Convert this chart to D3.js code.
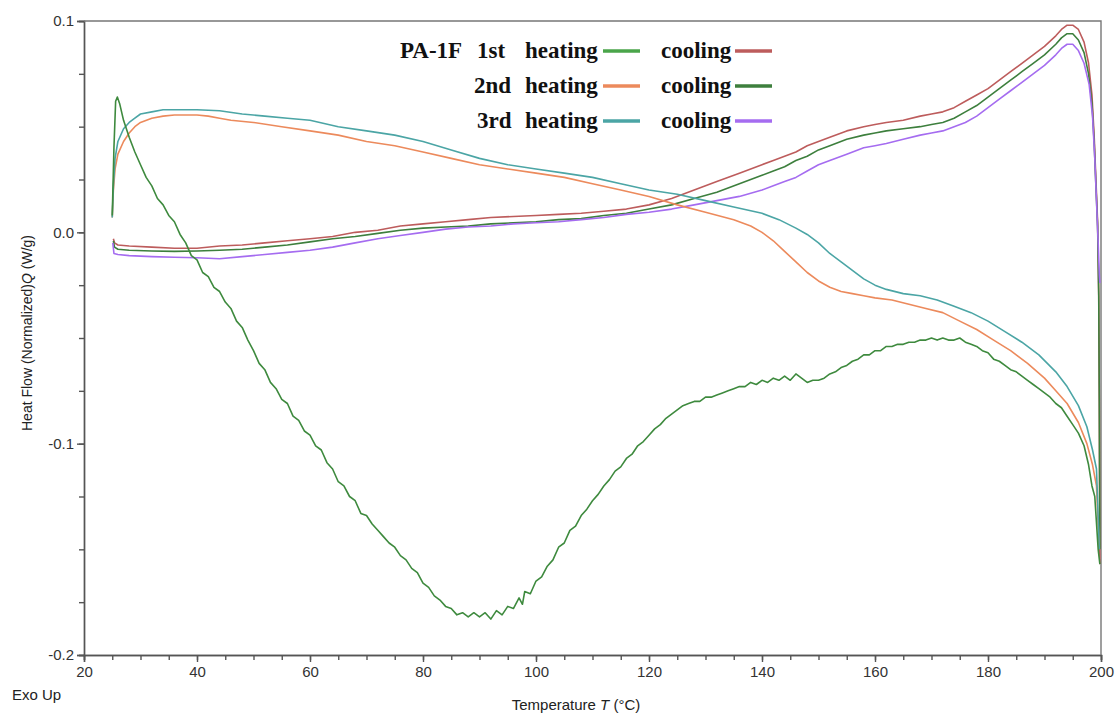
<!DOCTYPE html>
<html>
<head>
<meta charset="utf-8">
<script src="https://cdn.jsdelivr.net/npm/d3@7"></script>
<style>
  html, body { margin: 0; padding: 0; background: #fff; }
  svg { display: block; }
</style>
</head>
<body>
<div id="chart"></div>
<script>
// DSC curves of PA-1F, temperature (°C) vs heat flow (W/g)
var heating1 = [[25.0,0.008],[25.3,0.040],[25.6,0.062],[25.9,0.064],[26.3,0.061],[27,0.053],[28,0.045],[29,0.038],[30,0.032],[31,0.026],[32,0.022],[33,0.016],[34,0.013],[35,0.008],[36,0.005],[37,-0.001],[38,-0.005],[39,-0.011],[40,-0.013],[41,-0.019],[42,-0.021],[43,-0.026],[44,-0.028],[45,-0.033],[46,-0.036],[47,-0.042],[48,-0.045],[49,-0.051],[50,-0.056],[51,-0.062],[52,-0.065],[53,-0.071],[54,-0.074],[55,-0.079],[56,-0.081],[57,-0.087],[58,-0.089],[59,-0.094],[60,-0.096],[61,-0.101],[62,-0.103],[63,-0.109],[64,-0.112],[65,-0.118],[66,-0.120],[67,-0.125],[68,-0.127],[69,-0.133],[70,-0.134],[71,-0.138],[72,-0.141],[73,-0.144],[74,-0.147],[75,-0.149],[76,-0.153],[77,-0.155],[78,-0.159],[79,-0.161],[80,-0.166],[81,-0.168],[82,-0.172],[83,-0.174],[84,-0.177],[85,-0.178],[86,-0.181],[87,-0.180],[88,-0.182],[89,-0.180],[90,-0.182],[91,-0.180],[92,-0.183],[93,-0.179],[94,-0.181],[95,-0.177],[96,-0.178],[97,-0.173],[97.6,-0.176],[98,-0.170],[99,-0.171],[100,-0.165],[101,-0.163],[102,-0.158],[103,-0.155],[104,-0.149],[105,-0.147],[106,-0.141],[107,-0.139],[108,-0.134],[109,-0.131],[110,-0.127],[111,-0.124],[112,-0.120],[113,-0.117],[114,-0.113],[115,-0.111],[116,-0.107],[117,-0.105],[118,-0.101],[119,-0.099],[120,-0.096],[121,-0.093],[122,-0.091],[123,-0.088],[124,-0.086],[125,-0.084],[126,-0.082],[127,-0.081],[128,-0.080],[129,-0.080],[130,-0.078],[131,-0.078],[132,-0.077],[133,-0.076],[134,-0.075],[135,-0.074],[136,-0.073],[137,-0.073],[138,-0.071],[139,-0.072],[140,-0.070],[141,-0.071],[142,-0.069],[143,-0.070],[144,-0.068],[145,-0.070],[146,-0.067],[147,-0.069],[148,-0.071],[149,-0.070],[150,-0.070],[151,-0.069],[152,-0.067],[153,-0.066],[154,-0.064],[155,-0.063],[156,-0.061],[157,-0.060],[158,-0.058],[159,-0.058],[160,-0.056],[161,-0.056],[162,-0.054],[163,-0.054],[164,-0.053],[165,-0.053],[166,-0.052],[167,-0.052],[168,-0.051],[169,-0.051],[170,-0.050],[171,-0.051],[172,-0.050],[173,-0.051],[174,-0.051],[175,-0.050],[176,-0.052],[177,-0.053],[178,-0.054],[179,-0.056],[180,-0.057],[181,-0.060],[182,-0.061],[183,-0.063],[184,-0.065],[185,-0.066],[186,-0.068],[187,-0.070],[188,-0.072],[189,-0.074],[190,-0.076],[191,-0.078],[192,-0.081],[193,-0.083],[194,-0.087],[195,-0.091],[196,-0.095],[197,-0.101],[197.8,-0.110],[198.4,-0.120],[198.9,-0.125],[199.5,-0.150],[199.8,-0.157]];

var cooling1 = [[199.8,-0.157],[199.7,-0.08],[199.6,-0.03],[199.4,0.005],[199.1,0.025],[198.8,0.045],[198.4,0.065],[197.8,0.080],[197,0.090],[196,0.096],[195,0.098],[194,0.098],[193,0.096],[192,0.093],[190,0.088],[188,0.084],[186,0.080],[184,0.076],[182,0.072],[180,0.068],[178,0.065],[176,0.062],[174,0.059],[172,0.057],[170,0.056],[168,0.055],[165,0.053],[162,0.052],[160,0.051],[158,0.050],[155,0.048],[152,0.045],[150,0.043],[148,0.041],[146,0.038],[144,0.036],[142,0.034],[140,0.032],[136,0.028],[132,0.024],[128,0.020],[124,0.016],[120,0.013],[116,0.011],[112,0.010],[108,0.009],[104,0.0085],[100,0.008],[96,0.0075],[92,0.007],[88,0.006],[84,0.005],[80,0.004],[76,0.003],[72,0.001],[68,0.0],[64,-0.002],[60,-0.003],[56,-0.004],[52,-0.005],[48,-0.006],[44,-0.0065],[40,-0.0075],[36,-0.0075],[32,-0.007],[28,-0.0065],[26,-0.006],[25.4,-0.005],[25.2,-0.003]];

var heating2 = [[25.0,0.007],[25.2,0.020],[25.5,0.030],[26,0.037],[27,0.043],[28,0.047],[29,0.050],[30,0.052],[32,0.054],[34,0.055],[36,0.0555],[38,0.0555],[40,0.0555],[42,0.055],[44,0.054],[46,0.053],[50,0.052],[55,0.050],[60,0.048],[65,0.046],[70,0.043],[75,0.041],[80,0.038],[85,0.035],[90,0.032],[95,0.030],[100,0.028],[105,0.026],[110,0.023],[115,0.020],[120,0.017],[125,0.013],[130,0.0095],[135,0.006],[138,0.003],[140,0.0],[142,-0.004],[144,-0.009],[146,-0.014],[148,-0.019],[150,-0.023],[152,-0.026],[154,-0.028],[156,-0.029],[158,-0.030],[160,-0.031],[163,-0.032],[166,-0.034],[169,-0.036],[172,-0.038],[175,-0.042],[178,-0.046],[181,-0.051],[184,-0.056],[187,-0.062],[190,-0.069],[192,-0.075],[194,-0.081],[196,-0.090],[197.5,-0.100],[198.5,-0.110],[199.2,-0.120],[199.7,-0.150]];

var cooling2 = [[199.8,-0.150],[199.7,-0.08],[199.6,-0.03],[199.4,0.003],[199.1,0.022],[198.8,0.042],[198.4,0.061],[197.8,0.075],[197,0.085],[196,0.091],[195,0.094],[194,0.094],[193,0.092],[192,0.089],[190,0.084],[188,0.080],[186,0.076],[184,0.072],[182,0.068],[180,0.064],[178,0.060],[176,0.057],[174,0.054],[172,0.052],[170,0.051],[168,0.050],[165,0.049],[162,0.048],[160,0.047],[158,0.046],[155,0.044],[152,0.041],[150,0.039],[148,0.036],[146,0.034],[144,0.031],[142,0.029],[140,0.027],[136,0.023],[132,0.019],[128,0.016],[124,0.013],[120,0.011],[116,0.009],[112,0.008],[108,0.0065],[104,0.006],[100,0.005],[96,0.0045],[92,0.004],[88,0.003],[84,0.0025],[80,0.002],[76,0.001],[72,-0.0005],[68,-0.002],[64,-0.003],[60,-0.0045],[56,-0.006],[52,-0.007],[48,-0.008],[44,-0.0085],[40,-0.0088],[36,-0.009],[32,-0.0088],[28,-0.0085],[26,-0.008],[25.4,-0.007],[25.2,-0.004]];

var heating3 = [[25.0,0.007],[25.2,0.022],[25.5,0.035],[26,0.043],[27,0.049],[28,0.052],[29,0.054],[30,0.056],[32,0.057],[34,0.058],[36,0.058],[40,0.058],[44,0.0575],[48,0.056],[52,0.055],[56,0.054],[60,0.053],[65,0.050],[70,0.048],[75,0.046],[80,0.043],[85,0.039],[90,0.035],[95,0.032],[100,0.030],[105,0.028],[110,0.026],[115,0.023],[120,0.020],[125,0.018],[130,0.015],[135,0.012],[140,0.009],[143,0.006],[146,0.002],[148,-0.001],[150,-0.005],[152,-0.010],[154,-0.014],[156,-0.018],[158,-0.022],[160,-0.025],[162,-0.027],[165,-0.029],[168,-0.030],[171,-0.032],[174,-0.035],[177,-0.038],[180,-0.042],[183,-0.047],[186,-0.052],[189,-0.058],[192,-0.066],[194,-0.073],[196,-0.082],[197.5,-0.092],[198.5,-0.103],[199.2,-0.112],[199.7,-0.150]];

var cooling3 = [[199.8,-0.024],[199.7,-0.020],[199.5,-0.005],[199.2,0.015],[198.9,0.035],[198.5,0.055],[197.9,0.070],[197,0.080],[196,0.086],[195,0.089],[194,0.089],[193,0.087],[192,0.084],[190,0.079],[188,0.075],[186,0.071],[184,0.067],[182,0.063],[180,0.059],[178,0.055],[176,0.052],[174,0.050],[172,0.048],[170,0.047],[168,0.046],[165,0.044],[162,0.042],[160,0.041],[158,0.040],[155,0.037],[152,0.034],[150,0.032],[148,0.029],[146,0.026],[144,0.024],[142,0.022],[140,0.020],[136,0.017],[132,0.015],[128,0.013],[124,0.011],[120,0.0095],[116,0.0085],[112,0.007],[108,0.006],[104,0.005],[100,0.0045],[96,0.004],[92,0.003],[88,0.0025],[84,0.0015],[80,0.0],[76,-0.0015],[72,-0.003],[68,-0.005],[64,-0.007],[60,-0.0085],[56,-0.0095],[52,-0.0105],[48,-0.0115],[44,-0.0125],[40,-0.012],[36,-0.0118],[32,-0.0115],[28,-0.011],[26,-0.0105],[25.3,-0.010],[25.1,-0.005]];

var runLabels = ["1st", "2nd", "3rd"];
var heatColors = ["#4aa54a", "#ec8a5c", "#4ba5a5"];
var coolColors = ["#bd5c5c", "#3d7f3d", "#a56cf0"];
var xTicks = [20, 40, 60, 80, 100, 120, 140, 160, 180, 200];
var yTicks = [-0.2, -0.1, 0.0, 0.1];

var chart = {
    width: 1118,
    height: 713,
    margin: {top: 21, right: 17, bottom: 58, left: 84},
    init: function(){
        var m = this.margin;
        this.svg = d3.select('#chart').append('svg')
            .attr('width', this.width)
            .attr('height', this.height);

        this.x = d3.scaleLinear().domain([20, 200]).range([m.left, this.width - m.right]);
        this.y = d3.scaleLinear().domain([-0.2, 0.1]).range([this.height - m.bottom, m.top]);

        this.drawAxes();
        this.drawCurves();
        this.drawLegend();
    },
    drawAxes: function(){
        var x = this.x, y = this.y, svg = this.svg;
        var x0 = x.range()[0], x1 = x.range()[1];
        var y0 = y.range()[0], y1 = y.range()[1];

        // minor ticks first
        svg.append('g').attr('class', 'minor')
            .attr('transform', 'translate(0,' + y0 + ')')
            .call(d3.axisBottom(x).tickValues(d3.range(20, 201, 5)).tickSize(5).tickFormat(''));
        svg.append('g').attr('class', 'minor')
            .attr('transform', 'translate(' + x0 + ',0)')
            .call(d3.axisLeft(y).tickValues(d3.range(-0.2, 0.1001, 0.025)).tickSize(5).tickFormat(''));

        svg.append('g').attr('class', 'xaxis')
            .attr('transform', 'translate(0,' + y0 + ')')
            .call(d3.axisBottom(x).tickValues(xTicks).tickSize(7).tickPadding(4).tickFormat(function(d){ return d; }));
        svg.append('g').attr('class', 'yaxis')
            .attr('transform', 'translate(' + x0 + ',0)')
            .call(d3.axisLeft(y).tickValues(yTicks).tickSize(7).tickPadding(3).tickFormat(function(d){ return d.toFixed(1); }));

        svg.selectAll('.domain, .tick line').attr('stroke', '#555').attr('stroke-width', 1.4);
        svg.selectAll('.tick text')
            .attr('fill', '#333')
            .style('font-family', 'Liberation Sans, Arial, sans-serif')
            .style('font-size', '15px');

        // frame top and right
        svg.append('path')
            .attr('d', 'M' + x0 + ',' + y1 + 'H' + x1 + 'V' + y0)
            .attr('fill', 'none').attr('stroke', '#777').attr('stroke-width', 1.4);

        var font = 'Liberation Sans, Arial, sans-serif';
        var xl = svg.append('text')
            .attr('x', 576).attr('y', 710)
            .attr('text-anchor', 'middle')
            .style('font-family', font).style('font-size', '15px').attr('fill', '#222');
        xl.append('tspan').text('Temperature ');
        xl.append('tspan').style('font-style', 'italic').text('T');
        xl.append('tspan').text(' (°C)');

        var yl = svg.append('text')
            .attr('transform', 'translate(32,' + 333 + ') rotate(-90)')
            .attr('text-anchor', 'middle')
            .style('font-family', font).style('font-size', '14px').attr('fill', '#222');
        yl.append('tspan').text('Heat Flow (Normalized)');
        yl.append('tspan').style('font-style', 'italic').text('Q');
        yl.append('tspan').text(' (W/g)');

        svg.append('text')
            .attr('x', 12).attr('y', 700)
            .style('font-family', font).style('font-size', '15px').attr('fill', '#222')
            .text('Exo Up');
    },
    drawCurves: function(){
        var self = this;
        var line = d3.line()
            .x(function(d){ return self.x(d[0]); })
            .y(function(d){ return self.y(d[1]); });
        // the noisy 1st heating trace reads darker than its legend swatch
        var series = [
            {data: cooling1, color: coolColors[0]},
            {data: cooling2, color: coolColors[1]},
            {data: cooling3, color: coolColors[2]},
            {data: heating2, color: heatColors[1]},
            {data: heating3, color: heatColors[2]},
            {data: heating1, color: d3.color(heatColors[0]).darker(0.5)}
        ];
        this.svg.append('g').selectAll('path').data(series).enter().append('path')
            .attr('d', function(d){ return line(d.data); })
            .attr('fill', 'none')
            .attr('stroke', function(d){ return d.color; })
            .attr('stroke-width', 1.6)
            .attr('stroke-linejoin', 'round');
    },
    drawLegend: function(){
        var svg = this.svg;
        var font = 'Liberation Serif, Times New Roman, serif';
        var g = svg.append('g').style('font-family', font).style('font-size', '23px')
            .style('font-weight', 'bold').attr('fill', '#111');
        var rowY = [50, 85, 120];
        var labelX = [477, 474, 477];

        g.append('text').attr('x', 400).attr('y', rowY[0] + 8).text('PA-1F');
        runLabels.forEach(function(lab, i){
            var cy = rowY[i];
            g.append('text').attr('x', labelX[i]).attr('y', cy + 8).text(lab);
            g.append('text').attr('x', 525).attr('y', cy + 8).text('heating');
            g.append('line').attr('x1', 603).attr('x2', 640).attr('y1', cy + 1).attr('y2', cy + 1)
                .attr('stroke', heatColors[i]).attr('stroke-width', 3.5);
            g.append('text').attr('x', 661).attr('y', cy + 8).text('cooling');
            g.append('line').attr('x1', 735).attr('x2', 772).attr('y1', cy + 1).attr('y2', cy + 1)
                .attr('stroke', coolColors[i]).attr('stroke-width', 3.5);
        });
    }
};

chart.init();
</script>
</body>
</html>
